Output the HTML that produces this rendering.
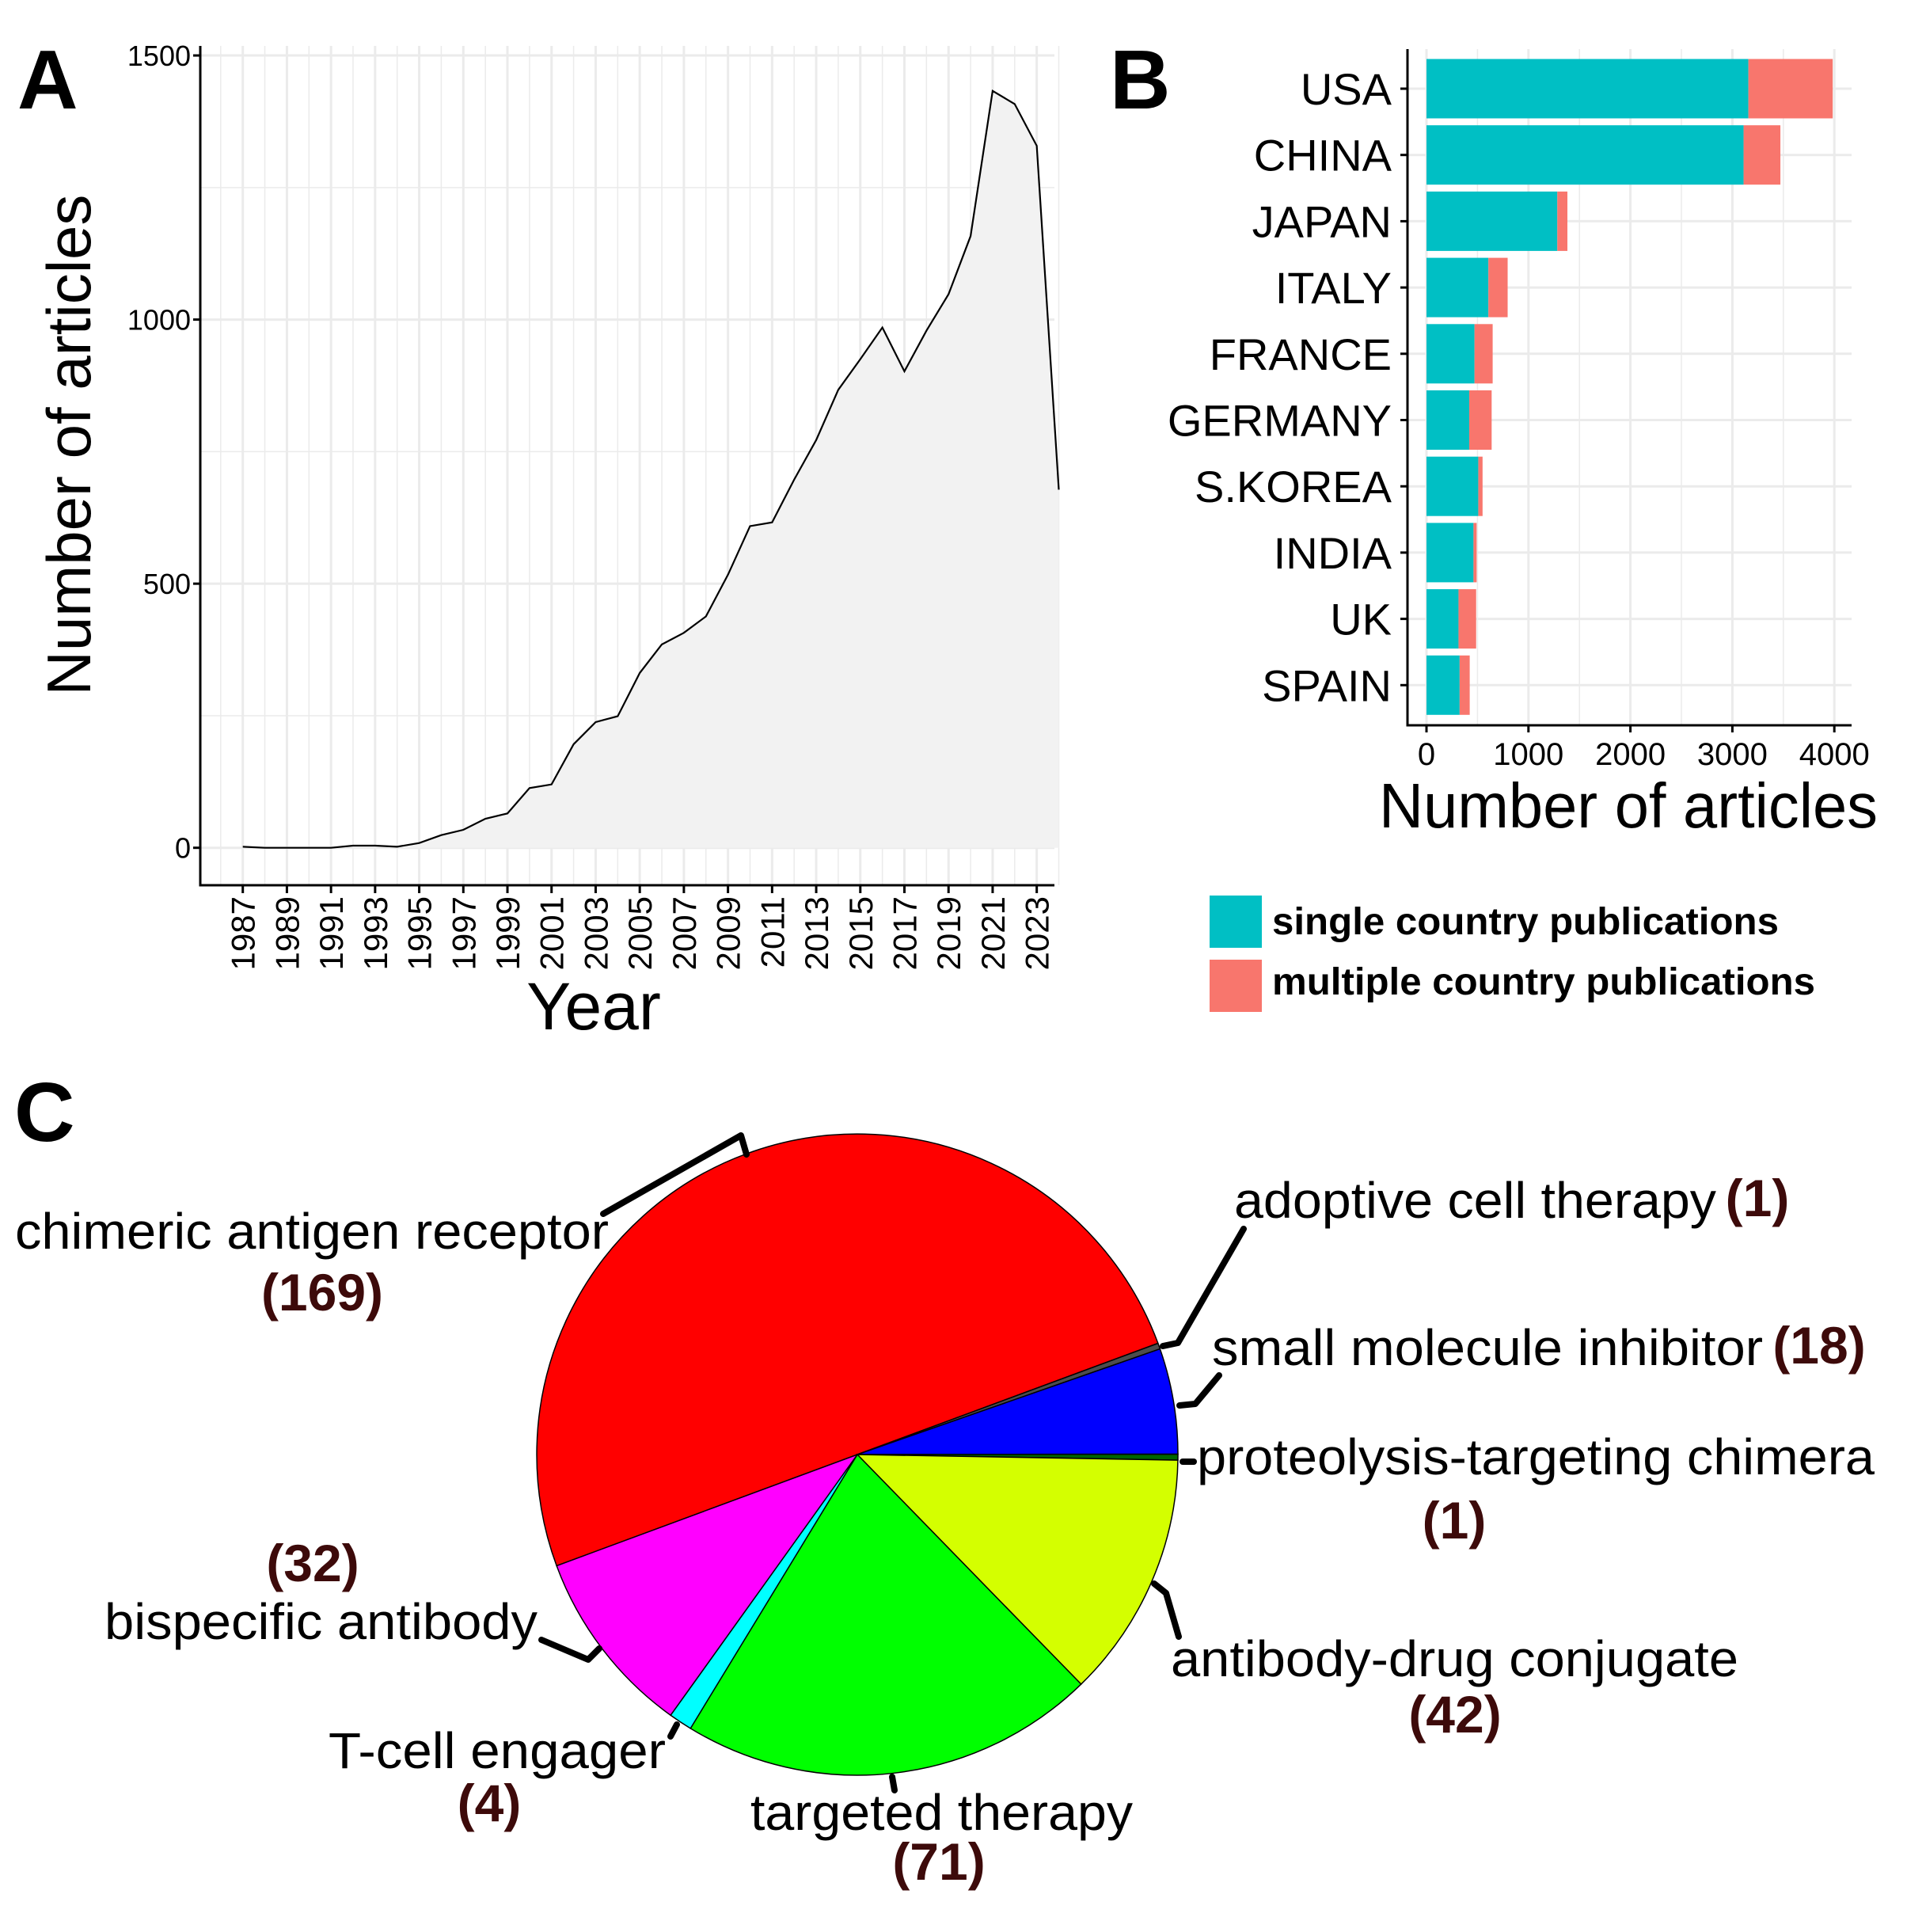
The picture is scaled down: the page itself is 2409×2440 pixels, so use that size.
<!DOCTYPE html>
<html><head><meta charset="utf-8"><style>
html,body{margin:0;padding:0;background:#fff;}
svg{display:block;font-family:"Liberation Sans",Arial,sans-serif;}
</style></head><body>
<svg id="fig" width="2409" height="2440" viewBox="0 0 2409 2440" xmlns="http://www.w3.org/2000/svg">
<rect width="2409" height="2440" fill="#fff"/>
<g id="panelA"></g>
<g id="panelB"></g>
<g id="panelC"></g>
<text x="22" y="137" font-size="106" font-weight="bold">A</text>
<text x="1402" y="137" font-size="106" font-weight="bold">B</text>
<text x="18" y="1441" font-size="106" font-weight="bold">C</text>
</svg>
<script>
const years = [1987,1988,1989,1990,1991,1992,1993,1994,1995,1996,1997,1998,1999,2000,2001,2002,2003,2004,2005,2006,2007,2008,2009,2010,2011,2012,2013,2014,2015,2016,2017,2018,2019,2020,2021,2022,2023,2024];
const articles = [2,0,0,0,0,4,4,2,9,24,34,55,65,113,120,196,238,249,331,385,407,438,517,609,616,697,772,867,925,985,902,979,1048,1158,1433,1408,1329,678];
const yTicksA = [0,500,1000,1500];
const xTickYearsA = [1987,1989,1991,1993,1995,1997,1999,2001,2003,2005,2007,2009,2011,2013,2015,2017,2019,2021,2023];

const countries = ["USA","CHINA","JAPAN","ITALY","FRANCE","GERMANY","S.KOREA","INDIA","UK","SPAIN"];
const singlePubs = [3157,3110,1283,607,471,419,508,461,314,325];
const multiPubs = [827,361,99,189,178,220,42,31,173,99];
const xTicksB = [0,1000,2000,3000,4000];

const pieLabels = ["chimeric antigen receptor","adoptive cell therapy","small molecule inhibitor","proteolysis-targeting chimera","antibody-drug conjugate","targeted therapy","T-cell engager","bispecific antibody"];
const pieValues = [169,1,18,1,42,71,4,32];
const pieColors = ["#ff0000","#4d4d4d","#0000ff","#006400","#d4ff00","#00ff00","#00ffff","#ff00ff"];

const NS = "http://www.w3.org/2000/svg";
function mk(parent, tag, attrs, text){
  const e = document.createElementNS(NS, tag);
  for (const k in attrs) e.setAttribute(k, attrs[k]);
  if (text !== undefined) e.textContent = text;
  parent.appendChild(e);
  return e;
}

/* ---------- Panel A ---------- */
const A = document.getElementById('panelA');
const aL = 253, aR = 1332, aT = 58, aB = 1118;
const ax = y => 306.7 + (y - 1987) * 27.86;
const ay = v => 1070.7 - v * 0.6671;
for (let v = 0; v <= 1500; v += 250) {
  const g = mk(A, 'line', {x1: aL, x2: aR, y1: ay(v), y2: ay(v), stroke: '#ebebeb', 'stroke-width': v % 500 === 0 ? 3 : 1.5});
  
  
}
for (let y = 1986; y <= 2024; y++) {
  const g = mk(A, 'line', {x1: ax(y), x2: ax(y), y1: aT, y2: aB, stroke: '#ebebeb', 'stroke-width': (y % 2 === 1) ? 3 : 1.5});
  
  
}
let areaD = 'M' + ax(years[0]) + ',' + ay(0);
let lineD = '';
years.forEach((yr, i) => {
  areaD += ' L' + ax(yr) + ',' + ay(articles[i]);
  lineD += (i ? ' L' : 'M') + ax(yr) + ',' + ay(articles[i]);
});
areaD += ' L' + ax(years[years.length - 1]) + ',' + ay(0) + ' Z';
const area = mk(A, 'path', {d: areaD, fill: '#f2f2f2'});


const line = mk(A, 'path', {d: lineD, fill: 'none', stroke: '#000', 'stroke-width': 2.2});


const ayAxis = mk(A, 'line', {x1: aL, x2: aL, y1: aT, y2: aB + 1.5, stroke: '#000', 'stroke-width': 3});


const axAxis = mk(A, 'line', {x1: aL - 1.5, x2: aR, y1: aB, y2: aB, stroke: '#000', 'stroke-width': 3});


yTicksA.forEach(v => {
  const t = mk(A, 'line', {x1: aL - 9, x2: aL, y1: ay(v), y2: ay(v), stroke: '#000', 'stroke-width': 3});
  
  
  const l = mk(A, 'text', {x: aL - 12, y: ay(v) + 13, 'font-size': 36, 'text-anchor': 'end', fill: '#000'}, String(v));
  
  
});
xTickYearsA.forEach(yr => {
  const t = mk(A, 'line', {x1: ax(yr), x2: ax(yr), y1: aB, y2: aB + 10, stroke: '#000', 'stroke-width': 3});
  
  
  const l = mk(A, 'text', {x: 0, y: 0, 'font-size': 42, 'text-anchor': 'end', transform: 'translate(' + (ax(yr) + 15) + ',' + (aB + 14) + ') rotate(-90)', fill: '#000'}, String(yr));
  
  
});
const aYT = mk(A, 'text', {x: 0, y: 0, 'font-size': 78, 'text-anchor': 'middle', transform: 'translate(114,562) rotate(-90)'}, 'Number of articles');


const aXT = mk(A, 'text', {x: 750, y: 1300, 'font-size': 84, 'text-anchor': 'middle'}, 'Year');



/* ---------- Panel B ---------- */
const B = document.getElementById('panelB');
const bAxisX = 1778, bT = 62, bB = 916, bR = 2339;
const bx = v => 1802 + v * 0.1288;
const by = i => 112 + i * 83.7;
const barH = 75;
for (let v = 0; v <= 4000; v += 500) {
  const g = mk(B, 'line', {x1: bx(v), x2: bx(v), y1: bT, y2: bB, stroke: '#ebebeb', 'stroke-width': v % 1000 === 0 ? 3 : 1.5});
  
  
}
countries.forEach((c, i) => {
  const g = mk(B, 'line', {x1: bAxisX, x2: bR, y1: by(i), y2: by(i), stroke: '#ebebeb', 'stroke-width': 3});
  
  
});
countries.forEach((c, i) => {
  const s = mk(B, 'rect', {x: bx(0), y: by(i) - barH / 2, width: bx(singlePubs[i]) - bx(0), height: barH, fill: '#00bfc4'});
  
  
  const m = mk(B, 'rect', {x: bx(singlePubs[i]), y: by(i) - barH / 2, width: bx(singlePubs[i] + multiPubs[i]) - bx(singlePubs[i]), height: barH, fill: '#f8766d'});
  
  
  const t = mk(B, 'line', {x1: bAxisX - 9, x2: bAxisX, y1: by(i), y2: by(i), stroke: '#000', 'stroke-width': 3});
  
  
  const l = mk(B, 'text', {x: 1758, y: by(i) + 20, 'font-size': 56, 'text-anchor': 'end'}, c);
  
  
});
const bYA = mk(B, 'line', {x1: bAxisX, x2: bAxisX, y1: bT, y2: bB + 1.5, stroke: '#000', 'stroke-width': 3});


const bXA = mk(B, 'line', {x1: bAxisX - 1.5, x2: bR, y1: bB, y2: bB, stroke: '#000', 'stroke-width': 3});


xTicksB.forEach(v => {
  const t = mk(B, 'line', {x1: bx(v), x2: bx(v), y1: bB, y2: bB + 9, stroke: '#000', 'stroke-width': 3});
  
  
  const l = mk(B, 'text', {x: bx(v), y: 966, 'font-size': 40, 'text-anchor': 'middle'}, String(v));
  
  
});
const bXT = mk(B, 'text', {x: 1742, y: 1045, 'font-size': 80, textLength: 630, lengthAdjust: 'spacingAndGlyphs'}, 'Number of articles');


const lg1 = mk(B, 'rect', {x: 1528, y: 1131, width: 66, height: 66, fill: '#00bfc4'});


const lg2 = mk(B, 'rect', {x: 1528, y: 1212, width: 66, height: 66, fill: '#f8766d'});


const lt1 = mk(B, 'text', {x: 1607, y: 1180, 'font-size': 48, 'font-weight': 'bold', textLength: 640, lengthAdjust: 'spacingAndGlyphs'}, 'single country publications');


const lt2 = mk(B, 'text', {x: 1607, y: 1256, 'font-size': 48, 'font-weight': 'bold', textLength: 686, lengthAdjust: 'spacingAndGlyphs'}, 'multiple country publications');



/* ---------- Panel C ---------- */
const C = document.getElementById('panelC');
const cx = 1083, cy = 1837, R = 405, startDeg = 200.3;
const total = pieValues.reduce((a, b) => a + b, 0);
let ang = startDeg;
pieValues.forEach((v, i) => {
  const a0 = ang, a1 = ang - v / total * 360;
  ang = a1;
  const p = a => [cx + R * Math.cos(a * Math.PI / 180), cy - R * Math.sin(a * Math.PI / 180)];
  const s = p(a0), e = p(a1);
  const large = (a0 - a1) > 180 ? 1 : 0;
  const d = 'M' + cx + ',' + cy + ' L' + s[0] + ',' + s[1] + ' A' + R + ',' + R + ' 0 ' + large + ' 1 ' + e[0] + ',' + e[1] + ' Z';
  const sl = mk(C, 'path', {d: d, fill: pieColors[i], stroke: '#000', 'stroke-width': 1.5});
  
  
});
</script>
<script>
(function(){
const C = document.getElementById('panelC');
const NS = "http://www.w3.org/2000/svg";
const html = `
<g fill="none" stroke="#000" stroke-width="8" stroke-linejoin="round" stroke-linecap="round">
<polyline points="943,1458 936,1434 762,1533"/>
<polyline points="1469,1700 1488,1696 1571,1552"/>
<polyline points="1490,1775 1510,1773 1540,1737"/>
<polyline points="1494,1846 1508,1846"/>
<polyline points="1458,2000 1473,2012 1489,2067"/>
<polyline points="1127,2244 1130,2261"/>
<polyline points="855,2178 847,2193"/>
<polyline points="757,2082 743,2096 684,2071"/>
</g>
<g font-size="64" fill="#000">
<text x="19" y="1577" textLength="750" lengthAdjust="spacingAndGlyphs">chimeric antigen receptor</text>
<text x="1559" y="1538" textLength="609" lengthAdjust="spacingAndGlyphs">adoptive cell therapy</text>
<text x="1531" y="1724" textLength="696" lengthAdjust="spacingAndGlyphs">small molecule inhibitor</text>
<text x="1512" y="1862" textLength="856" lengthAdjust="spacingAndGlyphs">proteolysis-targeting chimera</text>
<text x="1479" y="2117" textLength="717" lengthAdjust="spacingAndGlyphs">antibody-drug conjugate</text>
<text x="948" y="2311" textLength="483" lengthAdjust="spacingAndGlyphs">targeted therapy</text>
<text x="415" y="2233" textLength="426" lengthAdjust="spacingAndGlyphs">T-cell engager</text>
<text x="132" y="2070" textLength="547" lengthAdjust="spacingAndGlyphs">bispecific antibody</text>
</g>
<g font-size="66" font-weight="bold" fill="#3d0a0a" text-anchor="middle">
<text x="407" y="1655">(169)</text>
<text x="2220" y="1536">(1)</text>
<text x="2298" y="1722">(18)</text>
<text x="1837" y="1943">(1)</text>
<text x="1838" y="2188">(42)</text>
<text x="1186" y="2374">(71)</text>
<text x="618" y="2300">(4)</text>
<text x="395" y="1997">(32)</text>
</g>`;
const tmp = document.createElementNS(NS, 'g');
C.appendChild(tmp);
tmp.outerHTML = html;
})();
</script>
</body></html>
